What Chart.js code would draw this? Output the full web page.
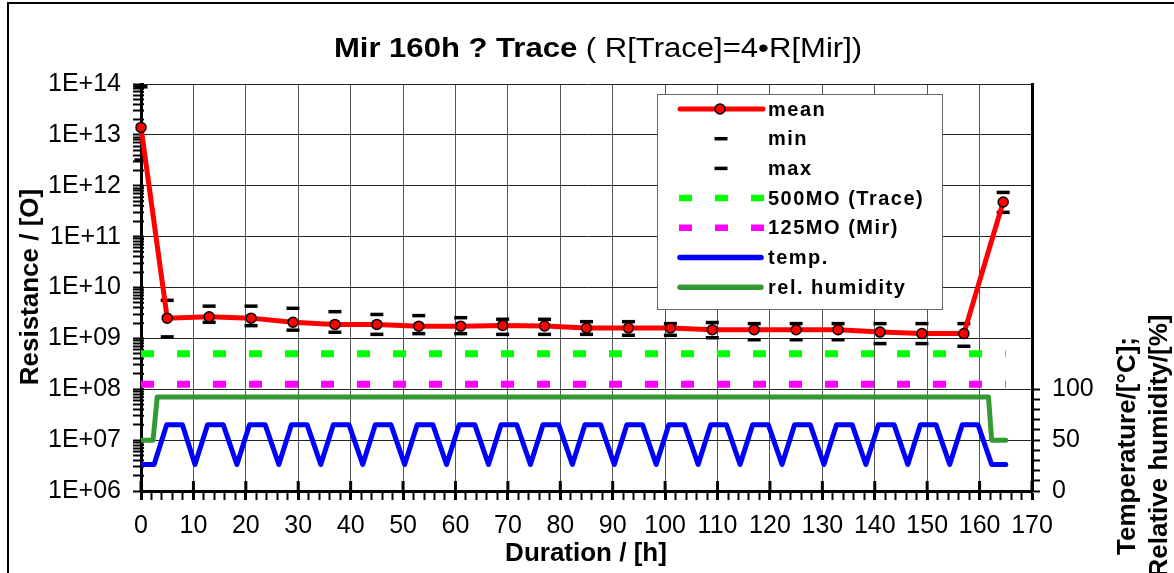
<!DOCTYPE html>
<html>
<head>
<meta charset="utf-8">
<script src="https://cdn.jsdelivr.net/npm/chart.js@4.4.1/dist/chart.umd.min.js"></script>
<style>
html, body { margin: 0; padding: 0; background: #fff; }
canvas { display: block; }
</style>
</head>
<body>
<canvas id="GraficoMir" width="1174" height="573"></canvas>
<script>
// resistance readings (hours of test)
var hours = [0, 5, 13, 21, 29, 37, 45, 53, 61, 69, 77, 85, 93, 101, 109, 117, 125, 133, 141, 149, 157, 164.5];
var meanValues = [1.4e13, 2.5e9, 2.65e9, 2.5e9, 2.07e9, 1.88e9, 1.88e9, 1.74e9, 1.74e9, 1.8e9, 1.75e9,
                  1.6e9, 1.6e9, 1.6e9, 1.48e9, 1.48e9, 1.48e9, 1.48e9, 1.33e9, 1.24e9, 1.24e9, 4.8e11];
var minValues = [3.2e12, 1.07e9, 2.07e9, 1.78e9, 1.45e9, 1.32e9, 1.2e9, 1.24e9, 1.24e9, 1.2e9, 1.2e9,
                 1.2e9, 1.15e9, 1.15e9, 1.03e9, 0.94e9, 0.94e9, 0.94e9, 0.79e9, 0.79e9, 0.7e9, 3e11];
var maxValues = [8.8e13, 5.6e9, 4.3e9, 4.3e9, 3.9e9, 3.35e9, 2.95e9, 2.8e9, 2.55e9, 2.37e9, 2.37e9,
                 2.13e9, 2.13e9, 1.95e9, 2.05e9, 1.95e9, 1.95e9, 1.95e9, 1.95e9, 1.95e9, 1.95e9, 7.4e11];

// limits
var limitHours = [0, 165];
var traceLimit = [5e8, 5e8];
var mirLimit = [1.25e8, 1.25e8];

// climate profile
var tempHours = [0, 2.5,
    4.9, 7.9, 10.3, 12.7, 15.7, 18.3, 20.7, 23.7, 26.3, 28.7, 31.7, 34.3,
    36.7, 39.7, 42.3, 44.7, 47.7, 50.3, 52.7, 55.7, 58.3, 60.7, 63.7, 66.3,
    68.7, 71.7, 74.3, 76.7, 79.7, 82.3, 84.7, 87.7, 90.3, 92.7, 95.7, 98.3,
    100.7, 103.7, 106.3, 108.7, 111.7, 114.3, 116.7, 119.7, 122.3, 124.7, 127.7, 130.3,
    132.7, 135.7, 138.3, 140.7, 143.7, 146.3, 148.7, 151.7, 154.3, 156.7, 159.7, 162.3,
    165];
var tempValues = [26, 26,
    65, 65, 26, 65, 65, 26, 65, 65, 26, 65, 65, 26,
    65, 65, 26, 65, 65, 26, 65, 65, 26, 65, 65, 26,
    65, 65, 26, 65, 65, 26, 65, 65, 26, 65, 65, 26,
    65, 65, 26, 65, 65, 26, 65, 65, 26, 65, 65, 26,
    65, 65, 26, 65, 65, 26, 65, 65, 26, 65, 65, 26,
    26];
var humidityHours = [0, 2.3, 3.1, 161.7, 162.3, 165];
var humidityValues = [50, 50, 92.5, 92.5, 50, 50];

var legendLabels = ['mean', 'min', 'max', '500MO (Trace)', '125MO (Mir)', 'temp.', 'rel. humidity'];
var rightTicks = [0, 10, 20, 30, 40, 50, 60, 70, 80, 90, 100];

var FONT = '"Liberation Sans", Arial, sans-serif';

function pontos(xs, ys) {
    return xs.map(function (x, i) { return { x: x, y: ys[i] }; });
}

function isDecade(v) {
    var l = Math.log10(v);
    return Math.abs(l - Math.round(l)) < 1e-9;
}

var extras = {
    id: 'extras',
    beforeDatasetsDraw: function (chart) {
        // major x ticks also reach into the plot, minor y ticks cross the axis
        var ctx = chart.ctx, a = chart.chartArea;
        ctx.save();
        ctx.strokeStyle = '#000';
        ctx.lineWidth = 3;
        chart.scales.x.ticks.forEach(function (t) {
            if (t.value % 10 !== 0) return;
            var px = chart.scales.x.getPixelForValue(t.value);
            ctx.beginPath(); ctx.moveTo(px, a.bottom - 10); ctx.lineTo(px, a.bottom); ctx.stroke();
        });
        ctx.lineWidth = 2;
        chart.scales.y.ticks.forEach(function (t) {
            var py = chart.scales.y.getPixelForValue(t.value);
            ctx.beginPath(); ctx.moveTo(a.left, py); ctx.lineTo(a.left + 3, py); ctx.stroke();
        });
        ctx.restore();
    },
    afterDraw: function (chart) {
        var ctx = chart.ctx;
        var ds = chart.data.datasets;
        ctx.save();

        // outer frame
        ctx.strokeStyle = '#000';
        ctx.lineWidth = 2;
        ctx.strokeRect(8, 3, 1400, 800);

        // title (bold + normal)
        var p1 = 'Mir 160h ? Trace', p2 = ' ( R[Trace]=4\u2022R[Mir])';
        ctx.fillStyle = '#000';
        ctx.textBaseline = 'alphabetic';
        ctx.textAlign = 'left';
        ctx.font = 'bold 27px ' + FONT;
        var w1 = ctx.measureText(p1).width;
        ctx.font = '27px ' + FONT;
        var w2 = ctx.measureText(p2).width;
        var sx = 1.15;
        ctx.save();
        ctx.translate(598 - (w1 + w2) * sx / 2, 57);
        ctx.scale(sx, 1);
        ctx.font = 'bold 27px ' + FONT;
        ctx.fillText(p1, 0, 0);
        ctx.font = '27px ' + FONT;
        ctx.fillText(p2, w1, 0);
        ctx.restore();

        // axis titles
        ctx.font = 'bold 26px ' + FONT;
        ctx.textAlign = 'center';
        ctx.fillText('Duration / [h]', 586, 561);

        ctx.textBaseline = 'middle';
        ctx.save();
        ctx.translate(31, 287);
        ctx.rotate(-Math.PI / 2);
        ctx.fillText('Resistance / [O]', 0, 0);
        ctx.restore();

        ctx.save();
        ctx.translate(1128, 446);
        ctx.rotate(-Math.PI / 2);
        ctx.fillText('Temperature/[\u00B0C];', 0, 0);
        ctx.fillText('Relative humidity/[%]', 0, 32);
        ctx.restore();

        // legend
        var lx = 657, ly = 94, lw = 285, lh = 215;
        ctx.fillStyle = '#fff';
        ctx.fillRect(lx, ly, lw, lh);
        ctx.strokeStyle = '#666';
        ctx.lineWidth = 1;
        ctx.strokeRect(lx + 0.5, ly + 0.5, lw, lh);

        var x0 = 680, x1 = 763, xm = 721;
        for (var i = 0; i < legendLabels.length; i++) {
            var y = 109 + i * 29.7;
            var d = ds[i];
            ctx.setLineDash([]);
            if (i === 0) {
                ctx.strokeStyle = d.borderColor;
                ctx.lineWidth = 5;
                ctx.lineCap = 'round';
                ctx.beginPath(); ctx.moveTo(x0, y); ctx.lineTo(x1, y); ctx.stroke();
                ctx.beginPath(); ctx.arc(xm - 1, y, 5, 0, Math.PI * 2);
                ctx.fillStyle = d.pointBackgroundColor; ctx.fill();
                ctx.lineWidth = 1.5; ctx.strokeStyle = '#000'; ctx.stroke();
            } else if (i < 3) {
                ctx.strokeStyle = '#000';
                ctx.lineWidth = 3.5;
                ctx.lineCap = 'butt';
                ctx.beginPath(); ctx.moveTo(xm - 6.5, y); ctx.lineTo(xm + 6.5, y); ctx.stroke();
            } else if (i < 5) {
                ctx.strokeStyle = d.borderColor;
                ctx.lineWidth = 6.5;
                ctx.lineCap = 'butt';
                ctx.setLineDash([13, 23]);
                ctx.beginPath(); ctx.moveTo(x0 - 1, y); ctx.lineTo(x1 + 2, y); ctx.stroke();
            } else {
                ctx.strokeStyle = d.borderColor;
                ctx.lineWidth = 5.5;
                ctx.lineCap = 'round';
                ctx.beginPath(); ctx.moveTo(x0, y); ctx.lineTo(x1 - 2, y); ctx.stroke();
            }
            ctx.setLineDash([]);
            ctx.fillStyle = '#000';
            ctx.font = 'bold 20px ' + FONT;
            ctx.textAlign = 'left';
            ctx.textBaseline = 'middle';
            ctx.letterSpacing = '1.5px';
            ctx.fillText(legendLabels[i], 768, y + 1);
            ctx.letterSpacing = '0px';
        }
        ctx.restore();
    }
};

new Chart(document.getElementById('GraficoMir'), {
    type: 'line',
    data: {
        datasets: [{
            label: 'mean',
            data: pontos(hours, meanValues),
            yAxisID: 'y',
            borderColor: '#ff0000',
            borderWidth: 5,
            pointRadius: 5,
            pointBackgroundColor: '#ff0000',
            pointBorderColor: '#000',
            pointBorderWidth: 1.5,
            tension: 0,
            clip: false,
            order: 0
        }, {
            label: 'min',
            data: pontos(hours, minValues),
            yAxisID: 'y',
            showLine: false,
            pointStyle: 'line',
            pointRadius: 6.5,
            pointBorderWidth: 3.5,
            pointBorderColor: '#000',
            borderColor: '#000',
            clip: false,
            order: 1
        }, {
            label: 'max',
            data: pontos(hours, maxValues),
            yAxisID: 'y',
            showLine: false,
            pointStyle: 'line',
            pointRadius: 6.5,
            pointBorderWidth: 3.5,
            pointBorderColor: '#000',
            borderColor: '#000',
            clip: false,
            order: 1
        }, {
            label: '500MO (Trace)',
            data: pontos(limitHours, traceLimit),
            yAxisID: 'y',
            borderColor: '#00ff00',
            borderWidth: 7,
            borderDash: [13, 23],
            borderCapStyle: 'butt',
            pointRadius: 0,
            order: 2
        }, {
            label: '125MO (Mir)',
            data: pontos(limitHours, mirLimit),
            yAxisID: 'y',
            borderColor: '#ff00ff',
            borderWidth: 7,
            borderDash: [13, 23],
            borderCapStyle: 'butt',
            pointRadius: 0,
            order: 2
        }, {
            label: 'temp.',
            data: pontos(tempHours, tempValues),
            yAxisID: 'y2',
            borderColor: '#0000ff',
            borderWidth: 5,
            borderJoinStyle: 'round',
            borderCapStyle: 'round',
            pointRadius: 0,
            order: 3
        }, {
            label: 'rel. humidity',
            data: pontos(humidityHours, humidityValues),
            yAxisID: 'y2',
            borderColor: '#339933',
            borderWidth: 5,
            borderJoinStyle: 'round',
            borderCapStyle: 'round',
            pointRadius: 0,
            order: 3
        }]
    },
    options: {
        responsive: false,
        animation: false,
        devicePixelRatio: 1,
        layout: { padding: { top: 84, left: 0, right: 0, bottom: 0 } },
        plugins: {
            legend: { display: false },
            title: { display: false },
            tooltip: { enabled: false }
        },
        scales: {
            x: {
                type: 'linear',
                min: 0,
                max: 170,
                afterFit: function (s) { s.height = 82; },
                ticks: {
                    stepSize: 2,
                    autoSkip: false,
                    maxRotation: 0,
                    padding: 11,
                    color: '#000',
                    font: { family: FONT, size: 25 },
                    callback: function (v) { return v % 10 === 0 ? v : ''; }
                },
                grid: {
                    color: function (c) { return c.tick && c.tick.value % 10 === 0 ? '#555' : 'rgba(0,0,0,0)'; },
                    tickColor: '#000',
                    tickLength: 9,
                    tickWidth: function (c) { return c.tick && c.tick.value % 10 === 0 ? 3 : 2; }
                },
                border: { color: '#000', width: 3 }
            },
            y: {
                type: 'logarithmic',
                position: 'left',
                min: 1e6,
                max: 1e14,
                afterFit: function (s) { s.width = 141; },
                afterBuildTicks: function (s) {
                    var t = [];
                    for (var e = 6; e <= 13; e++) {
                        for (var k = 1; k <= 9; k++) t.push({ value: k * Math.pow(10, e), major: k === 1 });
                    }
                    t.push({ value: 1e14, major: true });
                    s.ticks = t;
                },
                ticks: {
                    autoSkip: false,
                    padding: 12,
                    color: '#000',
                    font: { family: FONT, size: 25 },
                    callback: function (v) {
                        if (!isDecade(v)) return '';
                        var e = Math.round(Math.log10(v));
                        return '1E+' + (e < 10 ? '0' + e : e);
                    }
                },
                grid: {
                    color: function (c) { return c.tick && isDecade(c.tick.value) ? '#222' : 'rgba(0,0,0,0)'; },
                    tickColor: '#000',
                    tickLength: 8,
                    tickWidth: 2
                },
                border: { color: '#000', width: 3 }
            },
            y2: {
                type: 'linear',
                position: 'right',
                min: 0,
                max: 400,
                afterFit: function (s) { s.width = 142; },
                afterBuildTicks: function (s) {
                    s.ticks = rightTicks.map(function (v) { return { value: v }; });
                },
                ticks: {
                    autoSkip: false,
                    padding: 12,
                    color: '#000',
                    font: { family: FONT, size: 25 },
                    callback: function (v) { return v % 50 === 0 ? v : ''; }
                },
                grid: {
                    drawOnChartArea: false,
                    tickColor: '#000',
                    tickLength: 8,
                    tickWidth: 2
                },
                border: { color: '#000', width: 3 }
            }
        }
    },
    plugins: [extras]
});
</script>
</body>
</html>
